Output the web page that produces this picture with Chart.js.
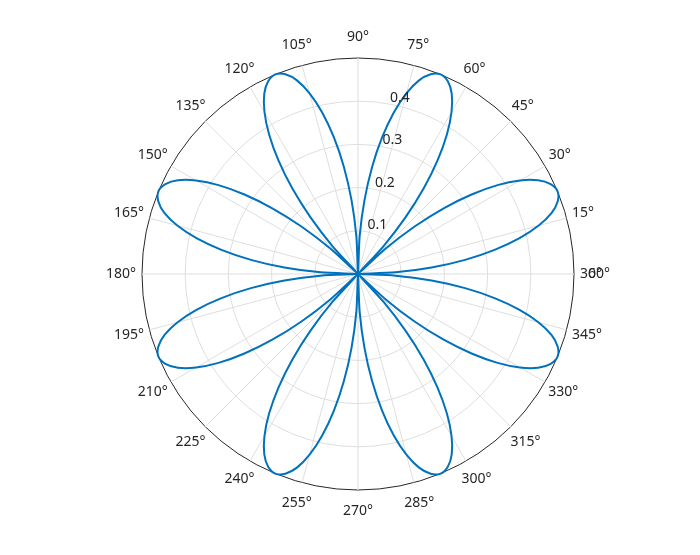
<!DOCTYPE html>
<html>
<head>
<meta charset="utf-8">
<script src="https://cdn.jsdelivr.net/npm/chart.js@4.4.0/dist/chart.umd.min.js"></script>
<style>
  body { margin: 0; background: #fff; }
  canvas { display: block; }
</style>
</head>
<body>
<canvas id="roseChart" width="700" height="555"></canvas>
<script>
// Rose curve, sampled every 2.5 degrees (counter-clockwise from 0)
const thetaStep = 2.5;
const rValues = [
  0, 0.087, 0.171, 0.25, 0.321, 0.383, 0.433, 0.470, 0.492, 0.5, 0.492, 0.470, 0.433, 0.383, 0.321, 0.25, 0.171, 0.087,
  0, 0.087, 0.171, 0.25, 0.321, 0.383, 0.433, 0.470, 0.492, 0.5, 0.492, 0.470, 0.433, 0.383, 0.321, 0.25, 0.171, 0.087,
  0, 0.087, 0.171, 0.25, 0.321, 0.383, 0.433, 0.470, 0.492, 0.5, 0.492, 0.470, 0.433, 0.383, 0.321, 0.25, 0.171, 0.087,
  0, 0.087, 0.171, 0.25, 0.321, 0.383, 0.433, 0.470, 0.492, 0.5, 0.492, 0.470, 0.433, 0.383, 0.321, 0.25, 0.171, 0.087,
  0, 0.087, 0.171, 0.25, 0.321, 0.383, 0.433, 0.470, 0.492, 0.5, 0.492, 0.470, 0.433, 0.383, 0.321, 0.25, 0.171, 0.087,
  0, 0.087, 0.171, 0.25, 0.321, 0.383, 0.433, 0.470, 0.492, 0.5, 0.492, 0.470, 0.433, 0.383, 0.321, 0.25, 0.171, 0.087,
  0, 0.087, 0.171, 0.25, 0.321, 0.383, 0.433, 0.470, 0.492, 0.5, 0.492, 0.470, 0.433, 0.383, 0.321, 0.25, 0.171, 0.087,
  0, 0.087, 0.171, 0.25, 0.321, 0.383, 0.433, 0.470, 0.492, 0.5, 0.492, 0.470, 0.433, 0.383, 0.321, 0.25, 0.171, 0.087
];
const thetaTicks = [0, 15, 30, 45, 60, 75, 90, 105, 120, 135, 150, 165, 180, 195, 210, 225, 240, 255, 270, 285, 300, 315, 330, 345];
const rTicks = [0.1, 0.2, 0.3, 0.4];
const rTickAngle = 80;

const textColor = "#262626";
const gridColor = "#dedede";
const fontFamily = "'Noto Sans', sans-serif";

// radar goes clockwise, so index i sits at angle -i*step
const n = rValues.length;
const indexFor = deg => (n - Math.round(deg / thetaStep)) % n;
const labels = rValues.map((_, i) => ((n - i) % n) * thetaStep);
const data = rValues.map((_, i) => rValues[(n - i) % n]);

const polarLabels = {
  id: "polarLabels",
  afterDatasetsDraw(chart) {
    const scale = chart.scales.r;
    const ctx = chart.ctx;
    ctx.save();
    ctx.fillStyle = textColor;
    ctx.font = "14px " + fontFamily;
    ctx.textAlign = "center";
    ctx.textBaseline = "middle";

    // label centre pushed out by half its box, like matlab does
    const labelPos = (text, deg) => {
      const p = scale.getPointPosition(indexFor(deg), scale.drawingArea + 6);
      const w = ctx.measureText(text).width;
      const a = deg * Math.PI / 180;
      return { x: p.x + (w / 2) * Math.cos(a), y: p.y - (7 + 8) * Math.sin(a) };
    };
    thetaTicks.forEach(t => {
      if (t === 0) return;
      const p = labelPos(t + "°", t);
      ctx.fillText(t + "°", p.x, p.y);
    });
    // 0 and 360 share a spot and overlap
    const p360 = labelPos("360°", 0);
    ctx.fillText("360°", p360.x, p360.y);
    ctx.fillText("0°", p360.x, p360.y);

    // radius labels along 80 degrees
    ctx.textAlign = "left";
    ctx.textBaseline = "bottom";
    rTicks.forEach(v => {
      const p = scale.getPointPosition(indexFor(rTickAngle), scale.getDistanceFromCenterForValue(v));
      ctx.fillText(String(v), p.x + 2, p.y + 1);
    });
    ctx.restore();
  }
};

new Chart(document.getElementById("roseChart"), {
  type: "radar",
  data: {
    labels: labels,
    datasets: [{
      data: data,
      borderColor: "#0072BD",
      borderWidth: 2,
      pointRadius: 0,
      fill: false,
      tension: 0.3
    }]
  },
  options: {
    responsive: false,
    animation: false,
    layout: { padding: { top: 58, bottom: 65, left: 16, right: 0 } },
    plugins: { legend: { display: false }, tooltip: { enabled: false } },
    scales: {
      r: {
        min: 0,
        max: 0.5,
        startAngle: 90,
        ticks: { stepSize: 0.1, display: false },
        pointLabels: { display: false },
        grid: {
          circular: true,
          color: c => (c.tick && c.tick.value >= 0.5 ? textColor : gridColor),
          lineWidth: 1
        },
        angleLines: {
          color: c => (c.index % 6 === 0 ? gridColor : "rgba(0,0,0,0)"),
          lineWidth: 1
        }
      }
    }
  },
  plugins: [polarLabels]
});
</script>
</body>
</html>
